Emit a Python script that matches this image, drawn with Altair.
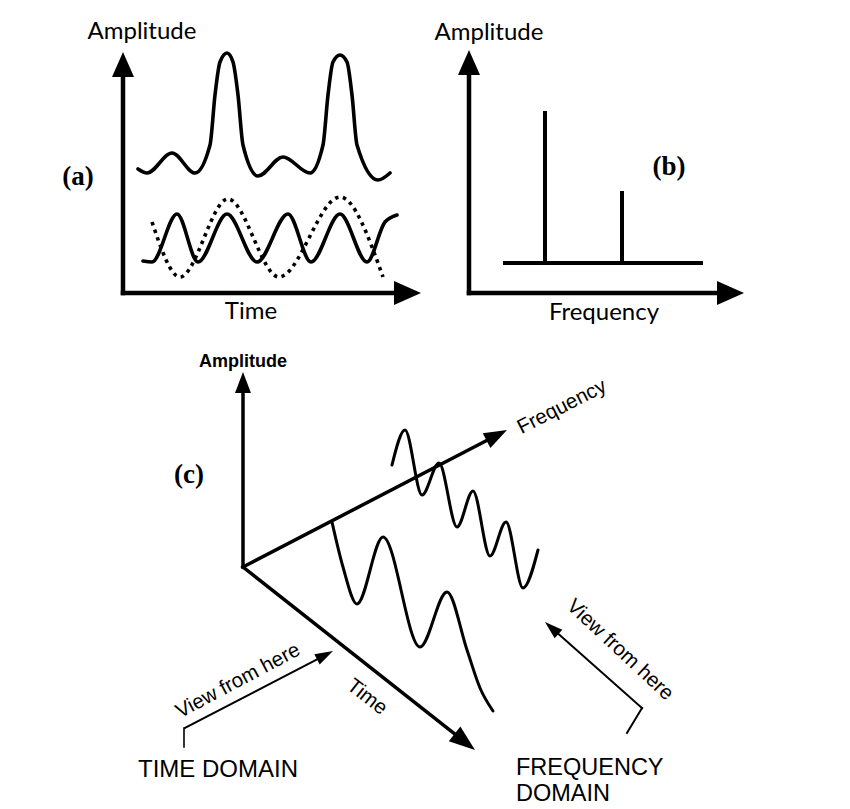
import math
import altair as alt
import pandas as pd

# ---------------- values (figure pixel units, y downwards) ----------------
# Panel (a): composite signal (top curve)
a_sum_x = [138, 147, 172, 195, 210, 215, 220, 227, 233, 238, 243, 258, 283, 310, 323, 328, 333, 340, 347, 352, 357, 378, 390]
a_sum_y = [169, 173, 153, 173, 145, 95, 62, 53, 62, 95, 145, 176, 157, 173, 145, 95, 62, 55, 62, 95, 145, 180, 173]
# Panel (a): higher-frequency component (solid)
a_hi_x = [143, 152, 177, 198, 227, 257, 288, 311, 340, 367, 385, 397]
a_hi_y = [261, 262, 214, 262, 214, 262, 214, 262, 214, 262, 222, 215]
# Panel (a): lower-frequency component (dotted)
a_lo_x = [152, 180, 228, 279, 340, 383]
a_lo_y = [222, 277, 199, 277, 197, 277]

# Panel (b): spectrum lines
b_freq = [545, 622]
b_amp_top = [113, 193]
b_base_y = 263
b_base_x = [505, 701]

# Panel (c): 3-D sketch
c_origin = (243, 567)
c_time_wave_x = [332, 343, 357, 383, 420, 447, 467, 480, 493]
c_time_wave_y = [522, 567, 604, 537, 647, 592, 650, 688, 711]
c_freq_wave_x = [392, 405, 422, 439, 457, 473, 490, 506, 523, 538]
c_freq_wave_y = [465, 430, 495, 463, 527, 491, 556, 522, 588, 550]

# arrows: name, tail, tip, head length, head half-width ratio, line width
arrow_names = ["a_y", "a_x", "b_y", "b_x", "c_amp", "c_freq", "c_time", "c_view_l", "c_view_r"]
arrow_tails = [(123, 293), (123, 293), (469, 293), (469, 293), c_origin, c_origin, c_origin, (185, 728), (642, 708)]
arrow_tips = [(123, 52), (421, 293), (469, 50), (744, 293), (243, 372), (507, 430), (475, 750), (333, 651), (545, 622)]
arrow_head_len = [25, 27, 25, 27, 21, 23, 26, 18, 18]
arrow_head_ratio = [0.44, 0.44, 0.44, 0.44, 0.38, 0.36, 0.36, 0.32, 0.32]
arrow_width = [4.5, 4.5, 4.5, 4.5, 3.5, 3.5, 3.5, 2, 2]

# plain segments
seg_x = [545, 622, 505, 184, 642]
seg_y = [263, 263, 263, 728, 708]
seg_x2 = [545, 622, 701, 184, 627]
seg_y2 = [113, 193, 263, 747, 733]
seg_w = [4, 4, 4, 1.6, 2]

# texts
lato_text = ["Amplitude", "Time", "Amplitude", "Frequency"]
lato_x = [142, 251, 489, 604]
lato_y = [39, 319, 40, 320]

panel_text = ["(a)", "(b)", "(c)"]
panel_x = [78, 669, 189]
panel_y = [185, 175, 483]

c_rot_text = ["Frequency", "Time", "View from here", "View from here"]
c_rot_x = [562, 367, 238, 620]
c_rot_y = [407, 697, 681, 650]
c_rot_angle = [333, 38, 332, 43]
c_rot_size = [20.5, 20.5, 20.5, 20.5]

c_cap_text = ["TIME DOMAIN"]
c_cap_x = [218]
c_cap_y = [777]
c_left_text = ["FREQUENCY", "DOMAIN"]
c_left_x = [516, 516]
c_left_y = [775, 801]

# ---------------- build tables ----------------
W, H = 834, 800
X0, Y0 = 8, 8
xs = alt.Scale(domain=[X0, X0 + W], nice=False, zero=False)
ys = alt.Scale(domain=[Y0, Y0 + H], nice=False, zero=False, reverse=True)
X = lambda f="x": alt.X(f"{f}:Q", scale=xs, axis=None)
Y = lambda f="y": alt.Y(f"{f}:Q", scale=ys, axis=None)


def wave_rows(name, xv, yv, width):
    return [{"series": name, "i": i, "x": a, "y": b, "w": width} for i, (a, b) in enumerate(zip(xv, yv))]


solid_df = pd.DataFrame(
    wave_rows("a_sum", a_sum_x, a_sum_y, 3.6)
    + wave_rows("a_hi", a_hi_x, a_hi_y, 3.6)
    + wave_rows("c_time", c_time_wave_x, c_time_wave_y, 3.0)
    + wave_rows("c_freq", c_freq_wave_x, c_freq_wave_y, 3.0)
)
dotted_df = pd.DataFrame(wave_rows("a_lo", a_lo_x, a_lo_y, 3.5))

seg_rows = []
head_rows = []
for n, t0, t1, L, r, w in zip(arrow_names, arrow_tails, arrow_tips, arrow_head_len, arrow_head_ratio, arrow_width):
    dx, dy = t1[0] - t0[0], t1[1] - t0[1]
    d = math.hypot(dx, dy)
    ux, uy = dx / d, dy / d
    seg_rows.append({"x": t0[0], "y": t0[1], "x2": t1[0] - ux * L * 0.6, "y2": t1[1] - uy * L * 0.6, "w": w})
    ang = math.degrees(math.atan2(dx, -dy)) % 360
    head_rows.append({"x": t1[0], "y": t1[1], "ang": ang, "size": 4 * L * L,
                      "shape": f"M0,0L{-r},1L{r},1Z"})
for a, b, c, e, w in zip(seg_x, seg_y, seg_x2, seg_y2, seg_w):
    seg_rows.append({"x": a, "y": b, "x2": c, "y2": e, "w": w})
seg_df = pd.DataFrame(seg_rows)
head_df = pd.DataFrame(head_rows)

# ---------------- layers ----------------
segments = alt.Chart(seg_df).mark_rule(color="black", strokeCap="square").encode(
    x=X(), y=Y(), x2="x2:Q", y2="y2:Q", strokeWidth=alt.StrokeWidth("w:Q", scale=None)
)
heads = alt.Chart(head_df).mark_point(filled=True, color="black", opacity=1, strokeWidth=0).encode(
    x=X(), y=Y(),
    size=alt.Size("size:Q", scale=None),
    angle=alt.Angle("ang:Q", scale=None),
    shape=alt.Shape("shape:N", scale=None),
)
solid = alt.Chart(solid_df).mark_line(interpolate="monotone", color="black", strokeCap="round", strokeJoin="round").encode(
    x=X(), y=Y(), detail="series:N", order="i:Q", strokeWidth=alt.StrokeWidth("w:Q", scale=None)
)
dotted = alt.Chart(dotted_df).mark_line(interpolate="monotone", color="black", strokeWidth=3.6, strokeDash=[3.5, 4.5]).encode(
    x=X(), y=Y(), order="i:Q"
)

lato_df = pd.DataFrame({"x": lato_x, "y": lato_y, "t": lato_text})
lato_lbl = alt.Chart(lato_df).mark_text(font="Lato", fontSize=24, color="black", align="center", baseline="alphabetic").encode(
    x=X(), y=Y(), text="t:N"
)
panel_df = pd.DataFrame({"x": panel_x, "y": panel_y, "t": panel_text})
panel_lbl = alt.Chart(panel_df).mark_text(font="Liberation Serif", fontWeight="bold", fontSize=27, color="black",
                                          align="center", baseline="alphabetic").encode(x=X(), y=Y(), text="t:N")
amp_df = pd.DataFrame({"x": [243], "y": [367], "t": ["Amplitude"]})
amp_lbl = alt.Chart(amp_df).mark_text(font="Liberation Sans", fontWeight="bold", fontSize=18, color="black",
                                      align="center", baseline="alphabetic").encode(x=X(), y=Y(), text="t:N")
rot_df = pd.DataFrame({"x": c_rot_x, "y": c_rot_y, "t": c_rot_text, "ang": c_rot_angle, "s": c_rot_size})
rot_lbl = alt.Chart(rot_df).mark_text(font="Liberation Sans", color="black", align="center", baseline="middle").encode(
    x=X(), y=Y(), text="t:N", angle=alt.Angle("ang:Q", scale=None), size=alt.Size("s:Q", scale=None)
)
cap_df = pd.DataFrame({"x": c_cap_x, "y": c_cap_y, "t": c_cap_text})
cap_lbl = alt.Chart(cap_df).mark_text(font="Liberation Sans", fontSize=24, color="black", align="center",
                                      baseline="alphabetic").encode(x=X(), y=Y(), text="t:N")
left_df = pd.DataFrame({"x": c_left_x, "y": c_left_y, "t": c_left_text})
left_lbl = alt.Chart(left_df).mark_text(font="Liberation Sans", fontSize=23.5, color="black", align="left",
                                        baseline="alphabetic").encode(x=X(), y=Y(), text="t:N")

chart = alt.layer(segments, solid, dotted, heads, lato_lbl, panel_lbl, amp_lbl, rot_lbl, cap_lbl, left_lbl).properties(
    width=W, height=H, padding=0, autosize=alt.AutoSizeParams(type="none"), background="white"
).configure_view(stroke=None)

chart.save("out.html", embed_options={"renderer": "svg", "actions": False})
